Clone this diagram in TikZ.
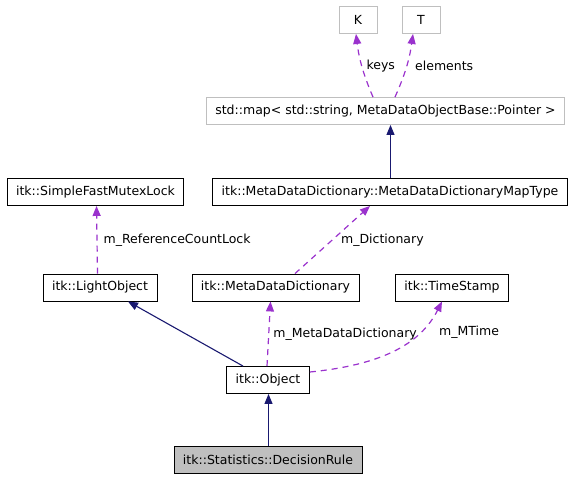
\documentclass[tikz,border=0pt]{standalone}
\usepackage{fontspec}
\setmainfont{DejaVu Sans}
\usetikzlibrary{arrows.meta}
\definecolor{edgeblue}{HTML}{191970}
\definecolor{edgepurple}{HTML}{9A32CD}
\definecolor{boxgray}{HTML}{BFBFBF}

\begin{document}
\begin{tikzpicture}[x=1pt,y=-1pt,
    font=\fontsize{12.5}{15}\selectfont,
    cls/.style={draw=black,line width=0.9pt,fill=white,minimum height=27pt,inner xsep=9pt,inner ysep=0pt},
    ext/.style={cls,draw=boxgray},
    inherit/.style={draw=edgeblue,line width=1.1pt,-{Triangle[length=10pt,width=8pt]}},
    usage/.style={draw=edgepurple,line width=1.2pt,dash pattern=on 6pt off 5pt,-{Triangle[length=10pt,width=8pt]}},
    lbl/.style={anchor=west,inner sep=0pt}]
    \useasboundingbox (0,0) rectangle (581,480);

    % template arguments
    \node[ext,minimum width=38pt] (k) at (358,20) {K};
    \node[ext,minimum width=38pt] (t) at (421,20) {T};
    \node[ext] (stdmap) at (385.5,111) {std::map< std::string, MetaDataObjectBase::Pointer >};

    % classes
    \node[cls] (maptype) at (390,192) {itk::MetaDataDictionary::MetaDataDictionaryMapType};
    \node[cls] (mutex) at (95.5,192) {itk::SimpleFastMutexLock};
    \node[cls] (light) at (100,287.5) {itk::LightObject};
    \node[cls] (dict) at (275.5,287.5) {itk::MetaDataDictionary};
    \node[cls] (stamp) at (452,287.5) {itk::TimeStamp};
    \node[cls] (object) at (268,380) {itk::Object};
    \node[cls,fill=boxgray] (rule) at (268,459.5) {itk::Statistics::DecisionRule};

    % inheritance
    \draw[inherit] ([xshift=0.5pt]rule.north) -- ([xshift=0.5pt]object.south);
    \draw[inherit] ([xshift=-25pt]object.north) -- ([xshift=28pt]light.south);
    \draw[inherit] ([xshift=0.5pt]maptype.north) -- ([xshift=0.5pt]maptype.north |- stdmap.south);

    % members
    \draw[usage] ([xshift=-12.5pt]stdmap.north) to[bend left=8] node[lbl,xshift=4pt]{keys} ([xshift=-2pt]k.south);
    \draw[usage] ([xshift=9.5pt]stdmap.north) to[bend right=8] node[lbl,xshift=8pt]{elements} ([xshift=-8pt]t.south);
    \draw[usage] ([xshift=-2.5pt]light.north) -- node[lbl,xshift=6pt]{m\_ReferenceCountLock} ([xshift=1pt]mutex.south);
    \draw[usage] ([xshift=19.5pt]dict.north) -- node[lbl,xshift=8pt]{m\_Dictionary} ([xshift=-20pt]maptype.south);
    \draw[usage] ([xshift=-1pt]object.north) -- node[lbl,xshift=4pt]{m\_MetaDataDictionary} ([xshift=-5pt]dict.south);
    \draw[usage] ([yshift=8pt]object.east) .. controls (380,365) and (420,345) .. node[lbl,pos=0.8,xshift=12pt,yshift=-7pt]{m\_MTime} ([xshift=-10pt]stamp.south);
\end{tikzpicture}
\end{document}
